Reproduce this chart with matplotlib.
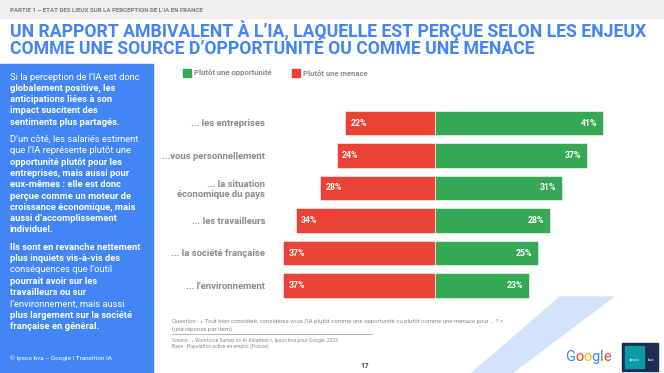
import matplotlib
matplotlib.use("Agg")
import matplotlib.pyplot as plt
from matplotlib.patches import Rectangle, Polygon

plt.rcParams['font.family'] = ['Roboto', 'DejaVu Sans']

# ---------------- data ----------------
categories = ["... les entreprises", "...vous personnellement",
              "... la situation\néconomique du pays", "... les travailleurs",
              "... la société française", "... l'environnement"]
opportunite = [41, 37, 31, 28, 25, 23]
menace = [22, 24, 28, 34, 37, 37]
series_names = ["Plutôt une opportunité", "Plutôt une menace"]

title_lines = ["UN RAPPORT AMBIVALENT À L’IA, LAQUELLE EST PERÇUE SELON LES ENJEUX",
               "COMME UNE SOURCE D’OPPORTUNITÉ OU COMME UNE MENACE"]
header = "PARTIE 1 – ETAT DES LIEUX SUR LA PERCEPTION DE L’IA EN FRANCE"
panel_lines = [
    ("Si la perception de l’IA est donc", "normal"),
    ("globalement positive, les", "bold"),
    ("anticipations liées à son", "bold"),
    ("impact suscitent des", "bold"),
    ("sentiments plus partagés.", "bold"),
    None,
    ("D’un côté, les salariés estiment", "normal"),
    ("que l’IA représente plutôt une", "normal"),
    ("opportunité plutôt pour les", "bold"),
    ("entreprises, mais aussi pour", "bold"),
    ("eux-mêmes : elle est donc", "bold"),
    ("perçue comme un moteur de", "bold"),
    ("croissance économique, mais", "bold"),
    ("aussi d’accomplissement", "bold"),
    ("individuel.", "bold"),
    None,
    ("Ils sont en revanche nettement", "bold"),
    ("plus inquiets vis-à-vis des", "bold"),
    ("conséquences que l’outil", "normal"),
    ("pourrait avoir sur les", "bold"),
    ("travailleurs ou sur", "bold"),
    ("l’environnement, mais aussi", "normal"),
    ("plus largement sur la société", "bold"),
    ("française en général.", "bold"),
]

GREEN = "#34a853"
RED = "#ea4335"
BLUE = "#4285f4"
GRAY = "#8a8a8a"

W, H = 664, 373
fig = plt.figure(figsize=(W / 100, H / 100), dpi=100)
fig.patch.set_facecolor("white")


def fx(x):
    return x / W


def fy(y):
    return 1 - y / H


renderer = fig.canvas.get_renderer()


def fit(t, width_px):
    bb = t.get_window_extent(renderer)
    t.set_fontsize(t.get_fontsize() * width_px / bb.width)


# top band
fig.patches.append(Rectangle((0, fy(18)), 1, 18 / H, transform=fig.transFigure,
                             color="#efefef", zorder=0))
t = fig.text(fx(10), fy(10), header, fontsize=5, fontweight="bold", color="#7a7a7a",
             va="center", ha="left")
fit(t, 197)

# title
t1 = fig.text(fx(10), fy(31), title_lines[0], fontsize=12, fontweight="bold", color=BLUE,
              va="center", ha="left")
fit(t1, 635)
fig.text(fx(10), fy(49), title_lines[1], fontsize=t1.get_fontsize(), fontweight="bold",
         color=BLUE, va="center", ha="left")

# blue panel
fig.patches.append(Rectangle((0, 0), fx(153), fy(64), transform=fig.transFigure,
                             color=BLUE, zorder=0))
y = 77
ref = fig.text(fx(10), fy(0), "D’un côté, les salariés estiment", fontsize=6)
fit(ref, 131)
ps = ref.get_fontsize()
ref.remove()
for item in panel_lines:
    if item is None:
        y += 6
        continue
    txt, w = item
    fig.text(fx(10), fy(y), txt, fontsize=ps, fontweight=w, color="white",
             va="center", ha="left")
    y += 11.3
fig.text(fx(10), fy(358), "© Ipsos bva – Google | Transition IA", fontsize=4.6,
         color="white", va="center", ha="left")

# light blue stripe
fig.patches.append(Polygon([(fx(560), fy(297)), (fx(613), fy(297)), (fx(512), fy(373)),
                            (fx(472), fy(373))], closed=True, transform=fig.transFigure,
                           color="#d3e3fb", zorder=0))

# legend
for x0, name, col in [(183, series_names[0], GREEN), (292, series_names[1], RED)]:
    fig.patches.append(Rectangle((fx(x0), fy(77)), 8 / W, 8 / H, transform=fig.transFigure,
                                 color=col))
    fig.text(fx(x0 + 11), fy(73), name, fontsize=5.6, fontweight="bold", color=GRAY,
             va="center", ha="left")

# bars
ax_left, ax_right, ax_top, ax_bot = 272, 640, 100, 310
ax = fig.add_axes([fx(ax_left), fy(ax_bot), (ax_right - ax_left) / W, (ax_bot - ax_top) / H])
ax.set_facecolor("none")
px_per = 4.1
zero = 435
ax.set_xlim((ax_left - zero) / px_per, (ax_right - zero) / px_per)
step = 32.5
y0 = 123
ax.set_ylim((ax_bot - y0) / step, (ax_top - y0) / step)
ypos = list(range(len(categories)))
ax.barh(ypos, opportunite, height=0.74, color=GREEN, edgecolor="white", linewidth=0.4)
ax.barh(ypos, [-m for m in menace], height=0.74, color=RED, edgecolor="white", linewidth=0.4)
for i in ypos:
    ax.annotate(f"{menace[i]}%", (-menace[i], i), xytext=(4, 0), textcoords="offset points",
                ha="left", va="center", color="white", fontsize=6.3, fontweight="bold")
    ax.annotate(f"{opportunite[i]}%", (opportunite[i], i), xytext=(-4, 0),
                textcoords="offset points", ha="right", va="center", color="white",
                fontsize=6.3, fontweight="bold")
ax.set_yticks(ypos)
ax.set_yticklabels(categories, fontsize=6.8, fontweight="bold", color=GRAY,
                   multialignment="right")
ax.tick_params(axis="y", length=0, pad=5)
ax.set_xticks([])
for s in ax.spines.values():
    s.set_visible(False)

# notes
qcol = "#8c8c8c"
fig.text(fx(172), fy(322), "Question : « Tout bien considéré, considérez-vous l’IA plutôt comme une "
         "opportunité ou plutôt comme une menace pour … ? »", fontsize=4.3, color=qcol,
         va="center", ha="left")
fig.text(fx(172), fy(329), "(une réponse par item)", fontsize=4.3, color=qcol,
         va="center", ha="left")
fig.add_artist(plt.Line2D([fx(172), fx(372)], [fy(334), fy(334)], color="#9a9a9a",
                          linewidth=0.5, transform=fig.transFigure))
fig.text(fx(172), fy(340), "Source : « Workforce Survey on AI Adoption », Ipsos bva pour Google, 2025",
         fontsize=3.6, color=qcol, va="center", ha="left")
fig.text(fx(172), fy(346), "Base : Population active en emploi (France)", fontsize=3.6,
         color=qcol, va="center", ha="left")
fig.text(fx(365), fy(365), "17", fontsize=5.5, fontweight="bold", color="#555555",
         va="center", ha="center")

# Google word
gx = 565
for ch, col in zip("Google", [BLUE, RED, "#fbbc05", BLUE, GREEN, RED]):
    tt = fig.text(fx(gx), fy(357), ch, fontsize=10.5, color=col, va="center", ha="left")
    gx += tt.get_window_extent(renderer).width

# Ipsos bva logo
fig.patches.append(Rectangle((fx(622), fy(371)), 36 / W, 28 / H, transform=fig.transFigure,
                             color="#1d2b55"))
fig.patches.append(Rectangle((fx(625), fy(368)), 19 / W, 22 / H, transform=fig.transFigure,
                             color="#0a9aa8"))
fig.text(fx(634.5), fy(360), "Ipsos", fontsize=2.8, color="white", va="center", ha="center")
fig.text(fx(651), fy(360), "bva", fontsize=3, color="white", va="center", ha="center")

fig.savefig("out.png", dpi=100)
